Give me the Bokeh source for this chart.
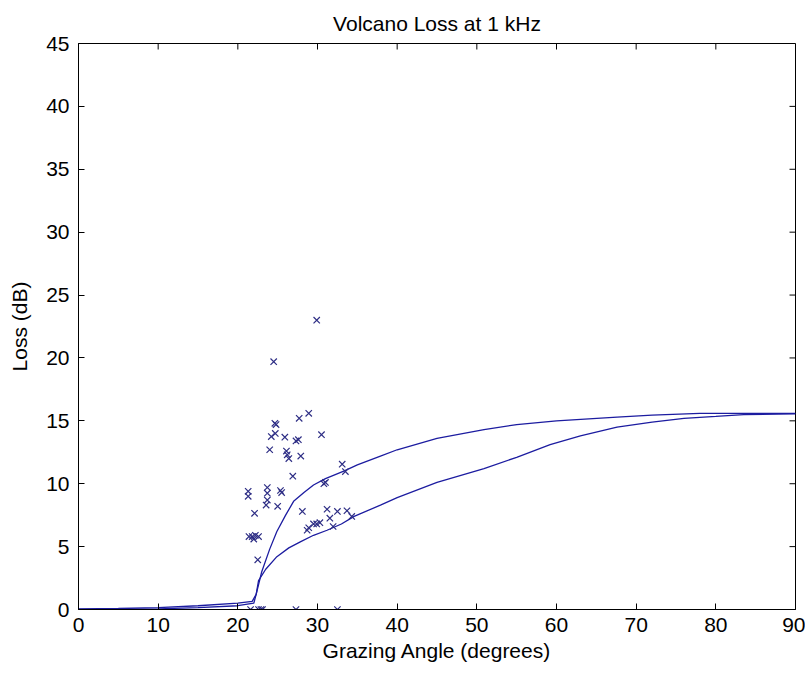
from bokeh.plotting import figure
from bokeh.models import Range1d, FixedTicker
from bokeh.embed import file_html
from bokeh.resources import INLINE

# Measured scatter data (grazing angle deg, loss dB)
meas_angle = [29.9, 24.5, 24.65, 24.8, 27.7, 28.9, 24.2, 24.7, 25.9, 27.3, 27.6, 30.5,
              24.0, 26.1, 26.2, 26.4, 27.9, 26.9, 33.1, 33.5, 30.8, 31.0,
              21.3, 21.3, 23.7, 23.7, 23.7, 23.55, 25.35, 25.5, 22.1, 25.0, 28.1,
              31.2, 32.5, 33.7, 31.55, 31.96, 34.3, 29.5, 29.9, 30.3, 28.7, 28.9,
              21.4, 21.8, 22.0, 22.2, 22.6, 22.5,
              21.6, 22.6, 23.1, 22.9, 27.3, 32.5]
meas_loss = [23.0, 19.7, 14.8, 14.7, 15.2, 15.6, 13.75, 14.0, 13.7, 13.4, 13.5, 13.9,
             12.7, 12.6, 12.3, 12.0, 12.2, 10.6, 11.55, 10.97, 10.0, 10.1,
             9.4, 9.0, 9.7, 9.25, 8.7, 8.3, 9.46, 9.3, 7.65, 8.2, 7.8,
             7.97, 7.8, 7.85, 7.26, 6.6, 7.4, 6.8, 6.8, 6.9, 6.3, 6.5,
             5.8, 5.8, 5.6, 5.9, 5.8, 3.95,
             0.0, 0.0, 0.0, 0.0, 0.0, 0.0]

# Model curve 1 (upper)
upper_angle = [0, 5, 10, 15, 20, 21.8, 22.3, 23.0, 24.0, 24.9, 26.0, 27.0, 28.3, 29.5,
               31.0, 33.3, 35, 37.9, 40, 45, 50.9, 55, 60, 67.6, 72, 78, 84, 90]
upper_loss = [0.05, 0.08, 0.15, 0.3, 0.5, 0.65, 1.2, 3.0, 4.8, 6.2, 7.5, 8.6, 9.3, 9.9,
              10.4, 11.0, 11.5, 12.2, 12.7, 13.6, 14.3, 14.7, 15.0, 15.3, 15.45, 15.6, 15.6, 15.6]

# Model curve 2 (lower)
lower_angle = [0, 5, 10, 15, 20, 22.0, 22.3, 22.6, 23.5, 24.9, 26.4, 27.9, 29.5, 31.2,
               33, 34.6, 37.9, 40, 45, 50.9, 55, 59.2, 63, 67.6, 72, 76, 80, 83.5, 90]
lower_loss = [0.0, 0.02, 0.05, 0.15, 0.3, 0.5, 1.2, 2.3, 3.2, 4.2, 4.9, 5.4, 5.9, 6.3,
              6.8, 7.4, 8.3, 8.9, 10.1, 11.2, 12.1, 13.1, 13.8, 14.5, 14.9, 15.2, 15.35, 15.5, 15.55]

x_ticks = [0, 10, 20, 30, 40, 50, 60, 70, 80, 90]
y_ticks = [0, 5, 10, 15, 20, 25, 30, 35, 40, 45]
X_MIN, X_MAX = 0, 90
Y_MIN, Y_MAX = 0, 45

FONT = "Liberation Sans"
LINE_COLOR = "#1c1ca0"
MARK_COLOR = "#2e2e85"

p = figure(width=805, height=675, output_backend="svg", toolbar_location=None,
           x_range=Range1d(X_MIN, X_MAX), y_range=Range1d(Y_MIN, Y_MAX),
           title="Volcano Loss at 1 kHz",
           min_border_left=78, min_border_right=10, min_border_top=42, min_border_bottom=66)
p.background_fill_color = "white"
p.border_fill_color = "white"
p.outline_line_color = "black"
p.outline_line_width = 1
p.xgrid.visible = False
p.ygrid.visible = False

p.title.align = "center"
p.title.text_font = FONT
p.title.text_font_size = "21px"
p.title.text_font_style = "normal"
p.title.text_color = "black"
p.title.standoff = 18

p.xaxis.axis_label = "Grazing Angle (degrees)"
p.yaxis.axis_label = "Loss (dB)"

for ax in [p.xaxis[0], p.yaxis[0]]:
    ax.axis_label_text_font = FONT
    ax.axis_label_text_font_size = "21px"
    ax.axis_label_text_font_style = "normal"
    ax.major_label_text_font = FONT
    ax.major_label_text_font_size = "21px"
    ax.major_tick_in = 6
    ax.major_tick_out = 0
    ax.minor_tick_in = 0
    ax.minor_tick_out = 0
    ax.axis_line_color = "black"
    ax.major_tick_line_color = "black"
    ax.major_label_text_color = "black"
    ax.axis_label_text_color = "black"
p.xaxis[0].ticker = FixedTicker(ticks=x_ticks)
p.yaxis[0].ticker = FixedTicker(ticks=y_ticks)
p.xaxis[0].major_label_standoff = 8
p.xaxis[0].axis_label_standoff = 4
p.yaxis[0].major_label_standoff = 9
p.yaxis[0].axis_label_standoff = 12

# Inward ticks on the top and right edges of the box (MATLAB style)
p.ray(x=x_ticks, y=[Y_MAX] * len(x_ticks), length=6, length_units="screen",
      angle=-90, angle_units="deg", line_color="black", line_width=1)
p.ray(x=[X_MAX] * len(y_ticks), y=y_ticks, length=6, length_units="screen",
      angle=180, angle_units="deg", line_color="black", line_width=1)

p.line(upper_angle, upper_loss, line_color=LINE_COLOR, line_width=1.3)
p.line(lower_angle, lower_loss, line_color=LINE_COLOR, line_width=1.3)
p.scatter(meas_angle, meas_loss, marker="x", size=9, line_color=MARK_COLOR, line_width=1.2)

open("out.html", "w").write(file_html(p, INLINE))
